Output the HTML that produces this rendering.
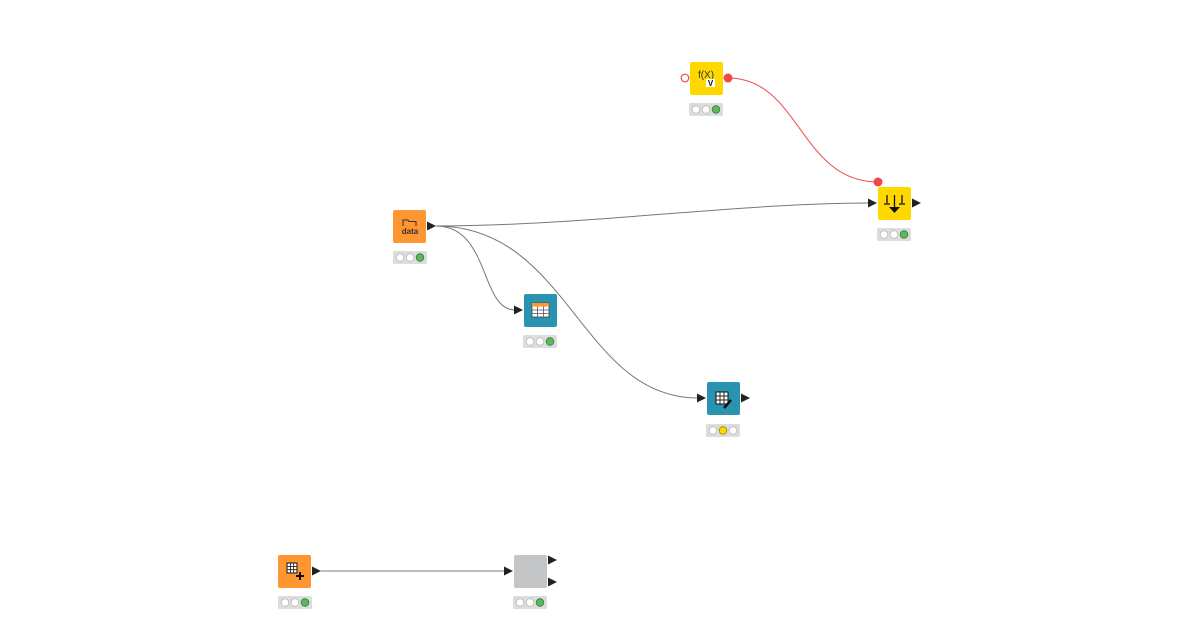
<!DOCTYPE html>
<html><head><meta charset="utf-8"><style>
html,body{margin:0;padding:0;background:#fff;width:1200px;height:630px;overflow:hidden}
svg{display:block}
</style></head><body>
<svg width="1200" height="630" viewBox="0 0 1200 630" xmlns="http://www.w3.org/2000/svg">
<defs>
<g id="st">
  <rect x="0" y="0" width="34" height="13" rx="1.5" fill="#dcdddd"/>
  <circle cx="7" cy="6.5" r="3.8" fill="#fff" stroke="#bbb" stroke-width="0.8"/>
  <circle cx="17" cy="6.5" r="3.8" fill="#fff" stroke="#bbb" stroke-width="0.8"/>
</g>
</defs>
<g fill="none" stroke="#777" stroke-width="1">
<path d="M436,226 C580,226 740,203 869,203"/>
<path d="M436,226 C490,226 480,310 515,310"/>
<path d="M436,226 C570,226 580,398 698,398"/>
<path d="M321,571 L505,571"/>
</g>
<path d="M728,78 C800,78 800,182 878,182" fill="none" stroke="#f04848" stroke-width="1"/>

<rect x="690" y="62" width="33" height="33" rx="2" fill="#ffd800"/>
<text x="706" y="78" font-family="Liberation Sans, sans-serif" font-size="10" text-anchor="middle" fill="#333">f(X)</text>
<rect x="706" y="79" width="9" height="8" fill="#fff"/>
<text x="710.5" y="86" font-family="Liberation Sans, sans-serif" font-size="8" font-weight="bold" text-anchor="middle" fill="#111">V</text>
<circle cx="685" cy="78" r="3.8" fill="#fff" stroke="#f04848" stroke-width="1.2"/>
<circle cx="728" cy="78" r="4.5" fill="#f04848"/>
<use href="#st" x="689" y="103"/><circle cx="716" cy="109.5" r="3.8" fill="#5cb85c" stroke="#3a7a3a" stroke-width="0.8"/>

<rect x="878" y="187" width="33" height="33" rx="2" fill="#ffd800"/>
<g stroke="#111" stroke-width="1.3" fill="none">
<line x1="894.5" y1="195" x2="894.5" y2="210"/><line x1="887" y1="195" x2="887" y2="203"/><line x1="902" y1="195" x2="902" y2="203"/>
<line x1="884" y1="204" x2="890" y2="204"/><line x1="899" y1="204" x2="905" y2="204"/>
</g>
<path d="M889,207 L900,207 L894.5,213 Z" fill="#111"/>
<circle cx="878" cy="182" r="4.5" fill="#f04848"/>
<path d="M868,198.5 L877,203 L868,207.5 Z" fill="#222"/>
<path d="M912,198.5 L921,203 L912,207.5 Z" fill="#222"/>
<use href="#st" x="877" y="228"/><circle cx="904" cy="234.5" r="3.8" fill="#5cb85c" stroke="#3a7a3a" stroke-width="0.8"/>

<rect x="393" y="210" width="33" height="33" rx="2" fill="#ff9632"/>
<path d="M403,226 L403,220 L408,220 L409,221.5 L416,221.5 L416,226" fill="none" stroke="#333" stroke-width="1"/>
<text x="410" y="234" font-family="Liberation Sans, sans-serif" font-size="8" font-weight="bold" text-anchor="middle" fill="#333">data</text>
<path d="M427,221.5 L436,226 L427,230.5 Z" fill="#222"/>
<use href="#st" x="393" y="251"/><circle cx="420" cy="257.5" r="3.8" fill="#5cb85c" stroke="#3a7a3a" stroke-width="0.8"/>

<rect x="524" y="294" width="33" height="33" rx="2" fill="#2a94b0"/>
<rect x="532" y="303" width="17" height="14" fill="#fff" stroke="#444" stroke-width="0.8"/>
<rect x="532" y="303" width="17" height="3.5" fill="#ff9632"/>
<g stroke="#555" stroke-width="0.8"><line x1="532" y1="310" x2="549" y2="310"/><line x1="532" y1="313.5" x2="549" y2="313.5"/><line x1="537.5" y1="306.5" x2="537.5" y2="317"/><line x1="543.5" y1="306.5" x2="543.5" y2="317"/></g>
<path d="M514,305.5 L523,310 L514,314.5 Z" fill="#222"/>
<use href="#st" x="523" y="335"/><circle cx="550" cy="341.5" r="3.8" fill="#5cb85c" stroke="#3a7a3a" stroke-width="0.8"/>

<rect x="707" y="382" width="33" height="33" rx="2" fill="#2a94b0"/>
<rect x="716" y="392" width="12" height="12" fill="#fff" stroke="#111" stroke-width="1"/>
<g stroke="#111" stroke-width="0.9"><line x1="716" y1="396" x2="728" y2="396"/><line x1="716" y1="400" x2="728" y2="400"/><line x1="720" y1="392" x2="720" y2="404"/><line x1="724" y1="392" x2="724" y2="404"/></g>
<path d="M724,408 L731,400" stroke="#111" stroke-width="2.5"/>
<path d="M697,393.5 L706,398 L697,402.5 Z" fill="#222"/>
<path d="M741,393.5 L750,398 L741,402.5 Z" fill="#222"/>
<use href="#st" x="706" y="424"/><circle cx="723" cy="430.5" r="3.8" fill="#ffd800" stroke="#a08a00" stroke-width="0.8"/><circle cx="733" cy="430.5" r="3.8" fill="#fff" stroke="#bbb" stroke-width="0.8"/>

<rect x="278" y="555" width="33" height="33" rx="2" fill="#ff9632"/>
<rect x="287" y="563" width="10" height="10" fill="#fff" stroke="#111" stroke-width="1"/>
<g stroke="#111" stroke-width="0.8"><line x1="287" y1="566.5" x2="297" y2="566.5"/><line x1="287" y1="569.7" x2="297" y2="569.7"/><line x1="290.5" y1="563" x2="290.5" y2="573"/><line x1="293.7" y1="563" x2="293.7" y2="573"/></g>
<path d="M300,572 L300,580 M296,576 L304,576" stroke="#111" stroke-width="2"/>
<path d="M312,566.5 L321,571 L312,575.5 Z" fill="#222"/>
<use href="#st" x="278" y="596"/><circle cx="305" cy="602.5" r="3.8" fill="#5cb85c" stroke="#3a7a3a" stroke-width="0.8"/>

<rect x="514" y="555" width="33" height="33" rx="2" fill="#c3c5c7"/>
<path d="M504,566.5 L513,571 L504,575.5 Z" fill="#222"/>
<path d="M548,555.5 L557,560 L548,564.5 Z" fill="#222"/>
<path d="M548,577.5 L557,582 L548,586.5 Z" fill="#222"/>
<use href="#st" x="513" y="596"/><circle cx="540" cy="602.5" r="3.8" fill="#5cb85c" stroke="#3a7a3a" stroke-width="0.8"/>
</svg>
</body></html>
